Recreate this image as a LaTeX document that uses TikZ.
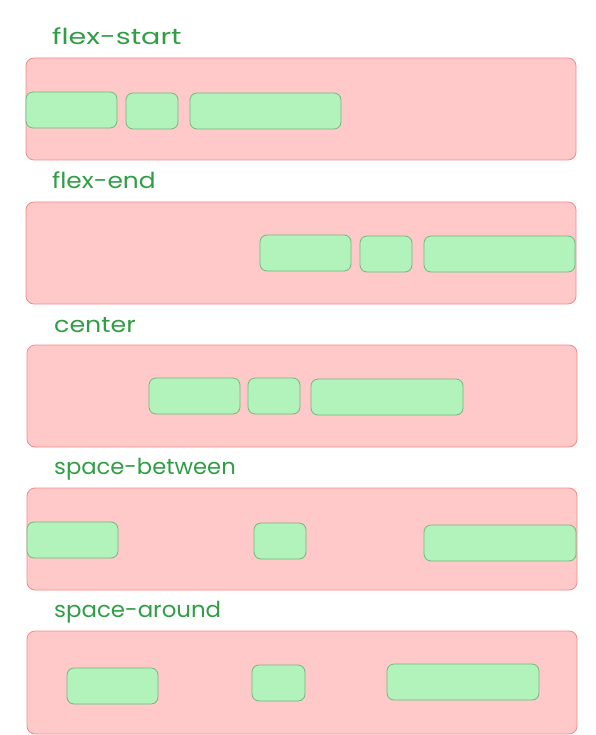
\documentclass[tikz,border=0pt]{standalone}
\usepackage{fontspec}
\setmainfont{Poppins}
\definecolor{lblgreen}{HTML}{2F9E44}
\definecolor{cfill}{HTML}{FFC9C9}
\definecolor{cdraw}{HTML}{F28B8B}
\definecolor{ifill}{HTML}{B2F2BB}
\definecolor{idraw}{HTML}{72B77E}
\tikzset{
  container/.style={draw=cdraw, fill=cfill, line width=0.8pt, rounded corners=8pt, anchor=north west, inner sep=0pt, outer sep=0pt},
  item/.style={draw=idraw, fill=ifill, line width=0.8pt, rounded corners=7pt, anchor=north west, inner sep=0pt, outer sep=0pt},
  lbl/.style={text=lblgreen, anchor=base west, inner sep=0pt, font=\fontsize{22}{26}\selectfont}
}
\begin{document}
\begin{tikzpicture}[x=1pt,y=-1pt]
\useasboundingbox (0,0) rectangle (596,735);
% flex-start
\node[lbl] (l1) at (52,45) {\scalebox{1.3}[1]{flex-start}};
\node[container, minimum width=550pt, minimum height=102pt] (c1) at (26,58) {};
\node[item, minimum width=91pt, minimum height=36pt] (a1) at (26,92) {};
\node[item, minimum width=52pt, minimum height=36pt] (b1) at (126,93) {};
\node[item, minimum width=151pt, minimum height=36pt] (d1) at (190,93) {};
% flex-end
\node[lbl] (l2) at (52,189) {\scalebox{1.13}[1]{flex-end}};
\node[container, minimum width=550pt, minimum height=102pt] (c2) at (26,202) {};
\node[item, minimum width=91pt, minimum height=36pt] (a2) at (260,235) {};
\node[item, minimum width=52pt, minimum height=36pt] (b2) at (360,236) {};
\node[item, minimum width=151pt, minimum height=36pt] (d2) at (424,236) {};
% center
\node[lbl] (l3) at (54,332) {\scalebox{1.15}[1]{center}};
\node[container, minimum width=550pt, minimum height=102pt] (c3) at (27,345) {};
\node[item, minimum width=91pt, minimum height=36pt] (a3) at (149,378) {};
\node[item, minimum width=52pt, minimum height=36pt] (b3) at (248,378) {};
\node[item, minimum width=152pt, minimum height=36pt] (d3) at (311,379) {};
% space-between
\node[lbl] (l4) at (54,474) {\scalebox{1.03}[1]{space-between}};
\node[container, minimum width=550pt, minimum height=102pt] (c4) at (27,488) {};
\node[item, minimum width=91pt, minimum height=36pt] (a4) at (27,522) {};
\node[item, minimum width=52pt, minimum height=36pt] (b4) at (254,523) {};
\node[item, minimum width=152pt, minimum height=36pt] (d4) at (424,525) {};
% space-around
\node[lbl] (l5) at (54,617) {\scalebox{1.04}[1]{space-around}};
\node[container, minimum width=550pt, minimum height=103pt] (c5) at (27,631) {};
\node[item, minimum width=91pt, minimum height=36pt] (a5) at (67,668) {};
\node[item, minimum width=53pt, minimum height=36pt] (b5) at (252,665) {};
\node[item, minimum width=152pt, minimum height=36pt] (d5) at (387,664) {};
\end{tikzpicture}
\end{document}
